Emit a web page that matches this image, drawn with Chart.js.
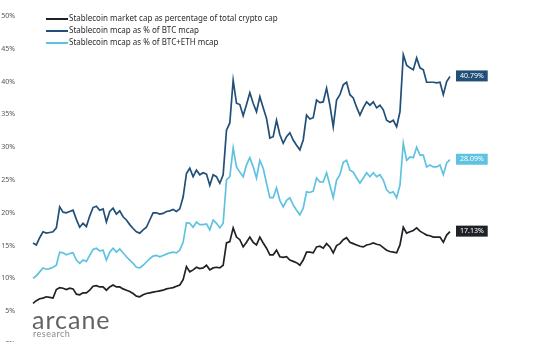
<!DOCTYPE html>
<html lang="en">
<head>
    <meta charset="UTF-8">
    <title>Stablecoin market cap</title>
    <script src="https://cdn.jsdelivr.net/npm/chart.js"></script>
    <style>
        html, body {
            margin: 0;
            padding: 0;
            background: #ffffff;
            overflow: hidden;
        }
        #wrap {
            position: relative;
            width: 545px;
            height: 360px;
        }
        .logo {
            position: absolute;
            left: 32px;
            top: 304px;
            font-family: Lato, "Noto Sans", sans-serif;
            font-weight: 400;
            font-size: 25px;
            color: #646464;
            letter-spacing: 1px;
        }
        .logo small {
            display: block;
            font-size: 9px;
            margin-top: -6px;
            margin-left: 1px;
            color: #8a8a8a;
            letter-spacing: 0.5px;
        }
    </style>
</head>
<body>
<div id="wrap">
    <canvas id="chart" width="545" height="360"></canvas>
    <div class="logo">arcane<small>research</small></div>
</div>

<script>
    // % of total crypto cap
    const totalCap = [
        6.2, 6.6, 6.9, 7.0, 7.2, 7.1, 7.0, 8.3, 8.6, 8.5,
        8.3, 8.5, 8.4, 7.6, 7.5, 7.8, 7.8, 8.2, 8.8, 8.9,
        8.7, 8.7, 8.2, 8.7, 9.0, 8.7, 8.7, 8.4, 8.2, 8.0,
        7.7, 7.3, 7.2, 7.5, 7.7, 7.8, 7.9, 8.0, 8.1, 8.2,
        8.4, 8.5, 8.6, 8.8, 9.0, 9.8, 11.8, 11.0, 11.3, 11.7,
        11.5, 11.6, 12.0, 11.3, 11.6, 11.7, 11.6, 12.0, 15.4, 15.6,
        17.7, 16.3, 15.9, 14.8, 15.5, 16.3, 15.5, 15.1, 16.3, 15.4,
        14.6, 13.6, 13.6, 14.3, 13.3, 13.2, 13.3, 12.8, 12.6, 12.4,
        12.0, 12.8, 14.0, 14.0, 13.9, 14.8, 14.9, 14.6, 15.3, 14.8,
        13.9, 15.0, 15.3, 15.9, 16.2, 15.5, 15.3, 15.1, 14.9, 14.8,
        15.1, 15.2, 15.4, 15.2, 15.1, 14.7, 14.3, 14.1, 14.0, 13.9,
        15.1, 17.8, 16.9, 17.1, 17.3, 17.7, 17.2, 16.9, 16.6, 16.5,
        16.3, 16.3, 16.3, 15.5, 16.6, 17.13
    ];

    // % of BTC mcap
    const btcCap = [
        15.4, 15.1, 16.2, 17.1, 16.9, 17.0, 17.1, 17.7, 20.9, 20.1,
        20.0, 20.2, 20.4, 19.0, 17.8, 18.4, 17.9, 19.5, 20.8, 21.0,
        20.4, 20.6, 18.6, 20.2, 20.7, 19.8, 20.3, 19.4, 18.9, 18.2,
        17.6, 17.1, 16.9, 17.4, 17.8, 18.9, 20.0, 20.0, 19.8, 19.9,
        20.2, 20.3, 20.5, 20.2, 20.6, 22.4, 26.0, 26.8, 25.5, 26.5,
        25.8, 26.1, 25.9, 24.2, 25.8, 25.5, 24.5, 25.8, 32.6, 33.7,
        40.2, 36.7, 36.5, 34.8, 36.5, 38.3, 36.7, 35.4, 37.7, 36.0,
        34.4, 31.4, 31.6, 34.1, 31.9, 30.6, 31.6, 32.2, 31.1, 30.3,
        29.6, 31.1, 34.9, 34.3, 34.5, 37.2, 36.8, 36.9, 39.0, 36.4,
        33.1, 37.2, 38.0, 39.5, 39.9, 38.0, 37.5, 36.1, 34.9, 36.0,
        36.9, 36.4, 36.9, 36.0, 36.4, 35.7, 34.1, 33.8, 34.1, 33.1,
        35.4, 44.1, 42.5, 42.1, 41.8, 43.6, 42.1, 41.8, 39.9, 39.9,
        39.9, 39.8, 39.9, 38.0, 40.0, 40.79
    ];

    // % of BTC+ETH mcap
    const btcEthCap = [
        10.0, 10.4, 11.0, 11.6, 11.4, 11.5, 11.7, 12.0, 14.0, 13.9,
        13.6, 13.8, 13.9, 12.8, 12.3, 12.8, 12.6, 13.5, 14.4, 14.6,
        14.2, 14.3, 12.8, 14.0, 14.6, 14.0, 14.5, 13.9, 13.3, 12.8,
        12.3, 11.7, 11.6, 12.0, 12.5, 13.0, 13.4, 13.5, 13.3, 13.5,
        13.7, 13.9, 14.0, 13.9, 14.3, 15.5, 18.5, 18.4, 17.8, 18.6,
        18.2, 18.2, 18.3, 17.4, 18.9, 18.4, 17.7, 18.4, 25.0, 25.5,
        29.9, 27.0, 26.2, 25.5, 27.3, 28.4, 27.0, 25.3, 28.0, 26.8,
        24.5, 22.3, 22.3, 23.8, 21.9, 20.9, 21.9, 22.3, 21.2, 20.4,
        19.7, 20.7, 23.2, 23.1, 23.3, 25.3, 24.7, 24.7, 26.1, 24.2,
        22.3, 25.0, 25.8, 27.7, 28.0, 26.5, 26.2, 25.3, 24.5, 25.3,
        26.1, 25.5, 26.1, 25.5, 25.8, 25.0, 23.5, 23.0, 23.2, 22.3,
        24.2, 30.6, 28.0, 28.5, 28.4, 30.0, 28.8, 28.8, 27.0, 27.3,
        27.0, 27.0, 27.3, 25.8, 27.6, 28.09
    ];

    const seriesNames = [
        "Stablecoin market cap as percentage of total crypto cap",
        "Stablecoin mcap as % of BTC mcap",
        "Stablecoin mcap as % of BTC+ETH mcap"
    ];
    const seriesColors = ["#1e2226", "#214f77", "#5ec3e0"];
    const lastLabels = ["17.13%", "40.79%", "28.09%"];

    const days = totalCap.map((v, i) => i);

    // legend drawn top-left inside the plot
    const legendPlugin = {
        id: "insideLegend",
        afterDraw(chart) {
            const ctx = chart.ctx;
            const area = chart.chartArea;
            ctx.save();
            ctx.font = "8px 'Noto Sans', sans-serif";
            ctx.textBaseline = "middle";
            chart.data.datasets.forEach((ds, i) => {
                const y = area.top + 3 + i * 12;
                const x = area.left + 13;
                ctx.strokeStyle = ds.borderColor;
                ctx.lineWidth = 2;
                ctx.beginPath();
                ctx.moveTo(x, y);
                ctx.lineTo(x + 22, y);
                ctx.stroke();
                ctx.fillStyle = "#2a2a2a";
                ctx.fillText(ds.label, x + 23, y);
            });
            ctx.restore();
        }
    };

    // value tag at the end of each line
    const endTags = {
        id: "endTags",
        afterDatasetsDraw(chart) {
            const ctx = chart.ctx;
            ctx.save();
            ctx.font = "7px 'Noto Sans', sans-serif";
            ctx.textBaseline = "middle";
            chart.data.datasets.forEach((ds, i) => {
                const meta = chart.getDatasetMeta(i);
                const pt = meta.data[meta.data.length - 1];
                const txt = lastLabels[i];
                const w = ctx.measureText(txt).width + 8;
                const x = pt.x + 6;
                ctx.fillStyle = ds.borderColor;
                ctx.fillRect(x, pt.y - 6, w, 11);
                ctx.fillStyle = "#ffffff";
                ctx.fillText(txt, x + 4, pt.y - 0.5);
            });
            ctx.restore();
        }
    };

    new Chart(document.getElementById("chart"), {
        type: "line",
        data: {
            labels: days,
            datasets: [totalCap, btcCap, btcEthCap].map((d, i) => ({
                label: seriesNames[i],
                data: d,
                borderColor: seriesColors[i],
                borderWidth: 1.7,
                pointRadius: 0,
                tension: 0,
                fill: false
            }))
        },
        options: {
            responsive: false,
            animation: false,
            layout: { padding: { top: 16, right: 95, bottom: 16, left: 0 } },
            plugins: {
                legend: { display: false },
                tooltip: { enabled: false }
            },
            scales: {
                x: {
                    display: false
                },
                y: {
                    min: 0,
                    max: 50,
                    afterFit: s => { s.width = 33; },
                    grid: { display: false },
                    border: { display: false },
                    ticks: {
                        stepSize: 5,
                        padding: 10,
                        color: "#555",
                        font: { family: "'Noto Sans', sans-serif", size: 7 },
                        callback: v => v + "%"
                    }
                }
            }
        },
        plugins: [legendPlugin, endTags]
    });
</script>
</body>
</html>
